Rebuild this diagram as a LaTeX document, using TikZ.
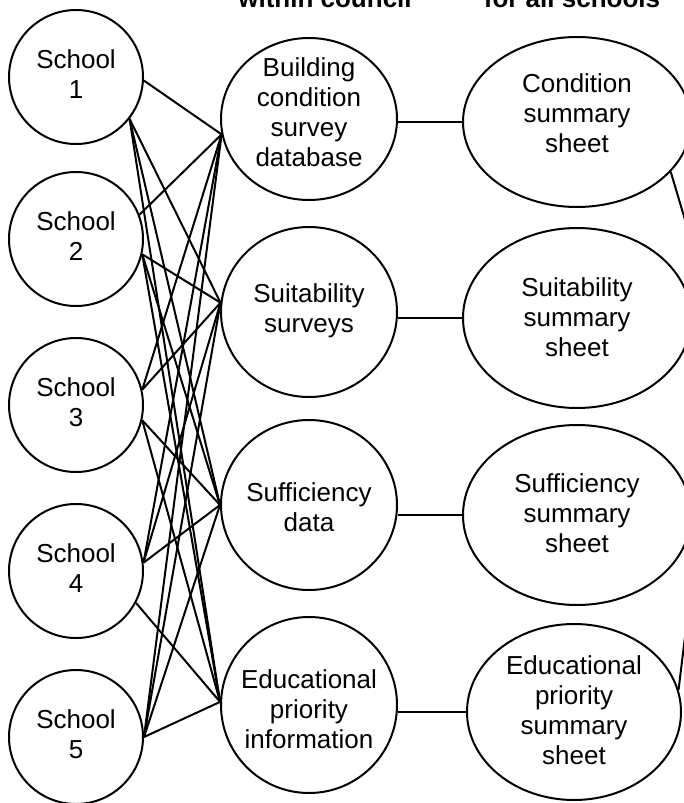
\documentclass[tikz,border=0pt]{standalone}
\usepackage{fontspec}
\setmainfont{Liberation Sans}
\usetikzlibrary{shapes.geometric}
\begin{document}
\begin{tikzpicture}[x=1pt,y=-1pt,line width=2pt,
  school/.style={circle,draw,minimum size=134pt,inner sep=0pt},
  store/.style={ellipse,draw,minimum width=176pt,minimum height=#1,inner sep=0pt},
  sheet/.style={ellipse,draw,minimum width=228pt,minimum height=#1,inner sep=0pt},
  lbl/.style={align=center,font=\fontsize{26}{30}\selectfont,inner sep=0pt},
  head/.style={font=\fontsize{26}{30}\selectfont\bfseries,anchor=base,inner sep=0pt},
  link/.style={line width=2pt}]
\useasboundingbox (0,0) rectangle (684,803);

% column headings (partly above the page)
\node[head] (h1) at (325,8) {within council};
\node[head] (h2) at (572,8) {for all schools};

% schools
\foreach \i/\y in {1/77,2/239,3/405,4/571,5/737}{
  \node[school] (s\i) at (76,\y) {};
  \node[lbl] (ts\i) at (76,\y-3) {School\\\i};
}

% data held within the council
\node[store=162pt] (m1) at (309,119) {};
\node[store=170pt] (m2) at (309,312) {};
\node[store=170pt] (m3) at (309,505) {};
\node[store=176pt] (m4) at (309,705) {};
\node[lbl] (tm1) at (309,112) {Building\\condition\\survey\\database};
\node[lbl] (tm2) at (309,311) {Suitability\\surveys};
\node[lbl] (tm3) at (309,507) {Sufficiency\\data};
\node[lbl] (tm4) at (309,709) {Educational\\priority\\information};

% summary sheets
\node[sheet=170pt] (r1) at (577,122) {};
\node[sheet=180pt] (r2) at (577,318) {};
\node[sheet=180pt] (r3) at (577,515) {};
\node[sheet=176pt,minimum width=214pt] (r4) at (574,712) {};
\node[lbl] (tr1) at (577,113) {Condition\\summary\\sheet};
\node[lbl] (tr2) at (577,317) {Suitability\\summary\\sheet};
\node[lbl] (tr3) at (577,513) {Sufficiency\\summary\\sheet};
\node[lbl] (tr4) at (574,710) {Educational\\priority\\summary\\sheet};

% school -> council data
\draw[link] (s1.-3) -- (m1.190);
\draw[link] (s1.-38) -- (m2.174);
\draw[link] (s1.-38) -- (m3.180);
\draw[link] (s1.-38) -- (m4.178);

\draw[link] (s2.21) -- (m1.190);
\draw[link] (s2.-13) -- (m2.174);
\draw[link] (s2.-13) -- (m3.180);
\draw[link] (s2.-13) -- (m4.178);

\draw[link] (s3.13) -- (m1.190);
\draw[link] (s3.13) -- (m2.174);
\draw[link] (s3.-13) -- (m3.180);
\draw[link] (s3.-13) -- (m4.178);

\draw[link] (s4.7) -- (m1.190);
\draw[link] (s4.7) -- (m2.174);
\draw[link] (s4.7) -- (m3.180);
\draw[link] (s4.-28) -- (m4.178);

\draw[link] (s5.0) -- (m1.190);
\draw[link] (s5.0) -- (m2.174);
\draw[link] (s5.0) -- (m3.180);
\draw[link] (s5.0) -- (m4.178);

% council data -> summary sheets
\foreach \i in {1,2,3,4}{
  \draw[link] (r\i.west -| m\i.east) -- (r\i.west);
}

% links leaving the page on the right
\coordinate (out1) at (700,270);
\coordinate (out4) at (687,620);
\draw[link] (r1.-28) -- (out1);
\draw[link] (r4.12) -- (out4);
\end{tikzpicture}
\end{document}
